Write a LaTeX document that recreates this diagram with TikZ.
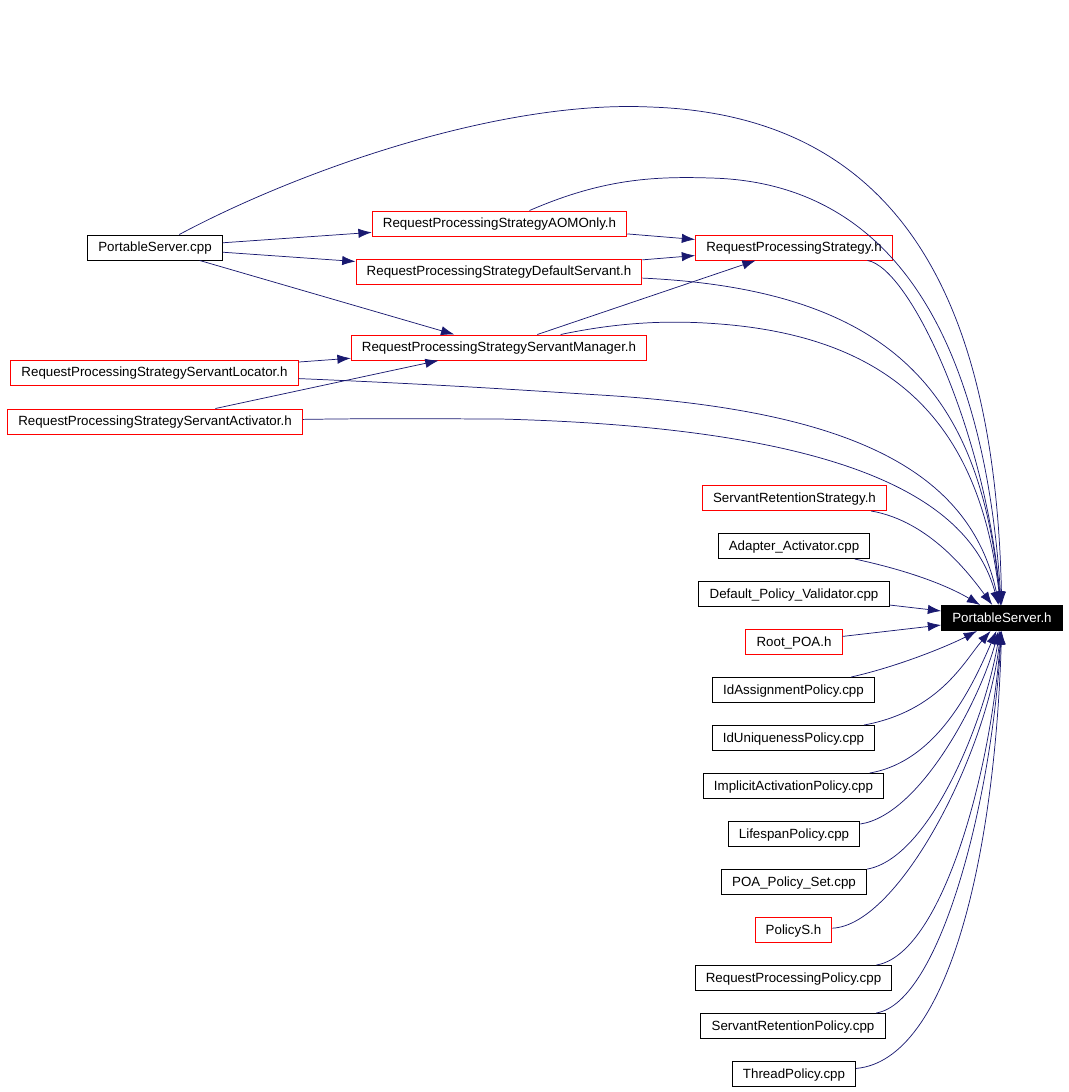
\documentclass[tikz,border=0pt]{standalone}
\usepackage{fontspec}
\setmainfont{Liberation Sans}
\usetikzlibrary{arrows.meta}
\definecolor{edgeblue}{RGB}{25,25,112}

\tikzset{
  filenode/.style = {shape=rectangle, draw=black, line width=0.75pt,
                     inner xsep=8pt, inner ysep=0pt, minimum height=18.75pt,
                     text depth=1.2pt, font=\fontsize{10}{12}\selectfont},
  redfile/.style  = {filenode, draw=red},
  root/.style     = {filenode, fill=black, text=white},
  dep/.style      = {draw=edgeblue, line width=0.55pt,
                     -{Latex[length=10pt,width=7pt]}}
}

\begin{document}
\begin{tikzpicture}[x=0.75pt, y=-0.75pt]
\useasboundingbox (0,0) rectangle (1069,1092);

% upper group
\node[filenode] (psc) at (155,247.5) {PortableServer.cpp};
\node[redfile]  (aom) at (499.5,223.5) {RequestProcessingStrategyAOMOnly.h};
\node[redfile]  (ds)  at (499,271.5) {RequestProcessingStrategyDefaultServant.h};
\node[redfile]  (rps) at (794,247.5) {RequestProcessingStrategy.h};
\node[redfile]  (sm)  at (499,347.5) {RequestProcessingStrategyServantManager.h};
\node[redfile]  (sl)  at (154.5,372.5) {RequestProcessingStrategyServantLocator.h};
\node[redfile]  (sa)  at (155,421.5) {RequestProcessingStrategyServantActivator.h};

% target
\node[root] (ps) at (1002,618) {PortableServer.h};

% column of includers
\node[redfile]  (srs)  at (794.5,498) {ServantRetentionStrategy.h};
\node[filenode] (aa)   at (794,546) {Adapter\_Activator.cpp};
\node[filenode] (dpv)  at (794,594) {Default\_Policy\_Validator.cpp};
\node[redfile]  (root) at (794,642) {Root\_POA.h};
\node[filenode] (ida)  at (793.5,690) {IdAssignmentPolicy.cpp};
\node[filenode] (idu)  at (793.5,738) {IdUniquenessPolicy.cpp};
\node[filenode] (iap)  at (793.5,786) {ImplicitActivationPolicy.cpp};
\node[filenode] (lsp)  at (794,834) {LifespanPolicy.cpp};
\node[filenode] (pps)  at (794,882) {POA\_Policy\_Set.cpp};
\node[redfile]  (pol)  at (793.5,930) {PolicyS.h};
\node[filenode] (rpp)  at (793.5,978) {RequestProcessingPolicy.cpp};
\node[filenode] (srp)  at (793,1026) {ServantRetentionPolicy.cpp};
\node[filenode] (thp)  at (794,1074) {ThreadPolicy.cpp};

% edges, upper group
\draw[dep] (psc) -- (aom);
\draw[dep] (psc) -- (ds);
\draw[dep] (psc) -- (sm);
\draw[dep] (aom) -- (rps);
\draw[dep] (ds) -- (rps);
\draw[dep] (sm) -- (rps);
\draw[dep] (sl) -- (sm);
\draw[dep] (sa) -- (sm);

\draw[dep] (psc) .. controls (300,170) and (500,100) .. (650,107)
                 .. controls (900,115) and (995,300) .. (ps);
\draw[dep] (aom) .. controls (600,180) and (650,176) .. (710,178)
                 .. controls (900,182) and (985,350) .. (ps);
\draw[dep] (ds) .. controls (900,290) and (980,400) .. (ps);
\draw[dep] (rps) .. controls (910,268) and (985,430) .. (ps);
\draw[dep] (sm) .. controls (620,322) and (670,320) .. (720,324)
                .. controls (900,338) and (980,430) .. (ps);
\draw[dep] (sl) .. controls (450,385) and (520,390) .. (600,395)
                .. controls (850,410) and (970,470) .. (ps);
\draw[dep] (sa) .. controls (400,418) and (450,419) .. (500,419)
                .. controls (850,428) and (970,500) .. (ps);

% edges, column
\draw[dep] (srs) .. controls (930,521) and (970,575) .. (ps);
\draw[dep] (aa) .. controls (920,573) and (955,590) .. (ps);
\draw[dep] (dpv) -- (ps);
\draw[dep] (root) -- (ps);
\draw[dep] (ida) .. controls (900,666) and (950,645) .. (ps);
\draw[dep] (idu) .. controls (940,711) and (965,660) .. (ps);
\draw[dep] (iap) .. controls (940,761) and (975,680) .. (ps);
\draw[dep] (lsp) .. controls (920,815) and (980,700) .. (ps);
\draw[dep] (pps) .. controls (930,858) and (985,720) .. (ps);
\draw[dep] (pol) .. controls (900,925) and (988,750) .. (ps);
\draw[dep] (rpp) .. controls (940,955) and (990,780) .. (ps);
\draw[dep] (srp) .. controls (940,1003) and (992,800) .. (ps);
\draw[dep] (thp) .. controls (950,1060) and (995,850) .. (ps);
\end{tikzpicture}
\end{document}
